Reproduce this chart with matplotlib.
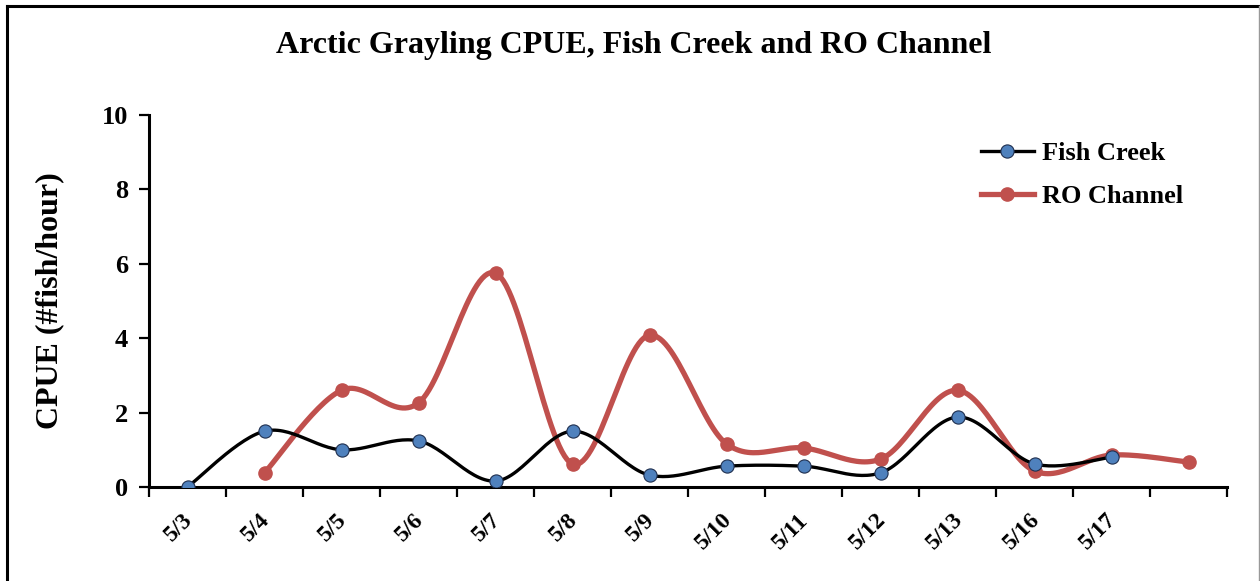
import numpy as np
import matplotlib
matplotlib.use("Agg")
import matplotlib.pyplot as plt
from matplotlib.lines import Line2D

categories = ["5/3", "5/4", "5/5", "5/6", "5/7", "5/8", "5/9", "5/10",
              "5/11", "5/12", "5/13", "5/16", "5/17", ""]
fish_creek = [0.0, 1.5, 1.0, 1.24, 0.16, 1.5, 0.32, 0.56, 0.56, 0.38, 1.88, 0.62, 0.80]
ro_channel = [None, 0.38, 2.6, 2.26, 5.75, 0.62, 4.08, 1.16, 1.05, 0.75, 2.6, 0.43, 0.86, 0.67]

plt.rcParams['font.family'] = ['Liberation Serif', 'DejaVu Serif']
plt.rcParams['font.weight'] = 'bold'


def smooth(xs, ys, n=30):
    xs = np.asarray(xs, float)
    ys = np.asarray(ys, float)
    px, py = [], []
    m = len(xs)
    for i in range(m - 1):
        p0 = (xs[i - 1], ys[i - 1]) if i > 0 else (xs[i], ys[i])
        p1 = (xs[i], ys[i])
        p2 = (xs[i + 1], ys[i + 1])
        p3 = (xs[i + 2], ys[i + 2]) if i + 2 < m else (xs[i + 1], ys[i + 1])
        c1 = (p1[0] + (p2[0] - p0[0]) / 6, p1[1] + (p2[1] - p0[1]) / 6)
        c2 = (p2[0] - (p3[0] - p1[0]) / 6, p2[1] - (p3[1] - p1[1]) / 6)
        t = np.linspace(0, 1, n)
        bx = (1 - t) ** 3 * p1[0] + 3 * (1 - t) ** 2 * t * c1[0] + 3 * (1 - t) * t ** 2 * c2[0] + t ** 3 * p2[0]
        by = (1 - t) ** 3 * p1[1] + 3 * (1 - t) ** 2 * t * c1[1] + 3 * (1 - t) * t ** 2 * c2[1] + t ** 3 * p2[1]
        px.extend(bx)
        py.extend(by)
    return np.array(px), np.array(py)


W, H = 1260, 581
fig = plt.figure(figsize=(W / 100, H / 100), dpi=100)
# outer frame (left, top thick black; right thin gray; no bottom)
fig.add_artist(Line2D([7 / W, 7 / W], [0, 1 - 6 / H], transform=fig.transFigure,
                      color='black', lw=2.2, solid_capstyle='projecting'))
fig.add_artist(Line2D([7 / W, 1], [1 - 6 / H, 1 - 6 / H], transform=fig.transFigure,
                      color='black', lw=2.2, solid_capstyle='projecting'))
fig.add_artist(Line2D([1258.5 / W, 1258.5 / W], [0, 1 - 6 / H], transform=fig.transFigure,
                      color='#999999', lw=1.0))

ax = fig.add_axes([149 / W, 1 - 487 / H, (1227 - 149) / W, (487 - 115) / H])

fx = [i for i, v in enumerate(fish_creek) if v is not None]
fy = [v for v in fish_creek if v is not None]
rx = [i for i, v in enumerate(ro_channel) if v is not None]
ry = [v for v in ro_channel if v is not None]

sx, sy = smooth(rx, ry)
ax.plot(sx, sy, color='#C0504D', lw=3.8, solid_capstyle='round', zorder=2)
ax.plot(rx, ry, linestyle='none', marker='o', ms=9.5, color='#C0504D',
        markeredgecolor='#C0504D', zorder=3)
ro_handle = Line2D([], [], color='#C0504D', lw=3.8, marker='o', ms=9.5)

sx, sy = smooth(fx, fy)
ax.plot(sx, sy, color='black', lw=2.4, zorder=4)
ax.plot(fx, fy, linestyle='none', marker='o', ms=9.5, color='#4F81BD',
        markeredgecolor='#1F2F4F', markeredgewidth=0.8, zorder=5)
fc_handle = Line2D([], [], color='black', lw=2.4, marker='o', ms=9.5, markerfacecolor='#4F81BD',
                   markeredgecolor='#1F2F4F', markeredgewidth=0.8)

ax.set_xlim(-0.5, len(categories) - 0.5)
ax.set_ylim(0, 10)
ax.set_yticks([0, 2, 4, 6, 8, 10])
ax.set_xticks(np.arange(-0.5, len(categories), 1.0))
ax.set_xticklabels([])
ax.tick_params(axis='x', which='major', length=7, width=1.6, direction='out')
ax.tick_params(axis='y', length=7, width=1.6, direction='out', labelsize=19, pad=8)
for lab in ax.get_yticklabels():
    lab.set_fontweight('bold')

for i, c in enumerate(categories):
    if c:
        ax.annotate(c, xy=(i, 0), xycoords='data', xytext=(-4, -16), textcoords='offset points',
                    rotation=45, ha='right', va='top', rotation_mode='anchor',
                    fontsize=17, fontweight='bold')

for s in ['top', 'right']:
    ax.spines[s].set_visible(False)
for s in ['left', 'bottom']:
    ax.spines[s].set_linewidth(2.2)

ax.set_ylabel('CPUE (#fish/hour)', fontsize=23, fontweight='bold', labelpad=27)
fig.text(634 / W, 1 - 46 / H, 'Arctic Grayling CPUE, Fish Creek and RO Channel',
         ha='center', va='center', fontsize=23, fontweight='bold')

leg = ax.legend([fc_handle, ro_handle], ['Fish Creek', 'RO Channel'], loc='center left',
                bbox_to_anchor=((981 - 149) / (1227 - 149), (487 - 175) / (487 - 115)),
                frameon=False, prop={'size': 19, 'weight': 'bold'}, handlelength=2.0,
                handletextpad=0.3, labelspacing=0.75, borderaxespad=0, borderpad=0)

fig.savefig('out.png', dpi=100)
